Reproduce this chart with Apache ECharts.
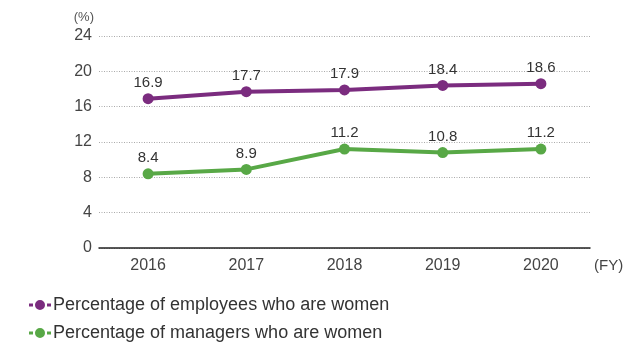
<!DOCTYPE html>
<html><head><meta charset="utf-8">
<script src="https://cdn.jsdelivr.net/npm/echarts@6/dist/echarts.min.js"></script>
<style>html,body{margin:0;padding:0;background:#fff}#c{width:627px;height:342px}</style>
</head><body><div id="c"></div>
<script>
const categories = ['2016','2017','2018','2019','2020'];
const employeesWomen = [16.9, 17.7, 17.9, 18.4, 18.6];
const managersWomen = [8.4, 8.9, 11.2, 10.8, 11.2];
const seriesNames = ['Percentage of employees who are women','Percentage of managers who are women'];

const icon = 'path://M0,4.5h4v3h-4z M6,6a5,5 0 1,0 10,0a5,5 0 1,0 -10,0z M18,4.5h4v3h-4z';
const chart = echarts.init(document.getElementById('c'));
const font = 'Liberation Sans, Arial, sans-serif';
function mk(name, data, color){
  return {
    name, type:'line', data,
    symbol:'circle', symbolSize:11,
    lineStyle:{color, width:4},
    itemStyle:{color},
    label:{show:true, position:'top', distance:3, color:'#333', fontSize:15, fontFamily:font, formatter:p=>p.value.toFixed(1)}
  };
}
function lg(i, top){
  return {
    left:24, top, itemWidth:22, itemHeight:10,
    textStyle:{fontSize:18, color:'#333', fontFamily:font, padding:[0,0,0,-3]},
    data:[{name:seriesNames[i], icon}]
  };
}
chart.setOption({
  animation:false,
  textStyle:{fontFamily:font},
  grid:{left:99, right:37, top:36, bottom:94, outerBoundsMode:'none', containLabel:false},
  legend:[lg(0, 291), lg(1, 319)],
  xAxis:{
    type:'category', data:categories,
    axisLine:{lineStyle:{color:'#222', width:1.5}},
    axisTick:{show:false},
    axisLabel:{color:'#444', fontSize:16, margin:10},
    name:'(FY)', nameLocation:'end', nameGap:4,
    nameTextStyle:{color:'#444', fontSize:15, verticalAlign:'top', padding:[10,0,0,0]}
  },
  yAxis:{
    type:'value', min:0, max:24, interval:4,
    axisLine:{show:false}, axisTick:{show:false},
    axisLabel:{color:'#444', fontSize:16, margin:7},
    splitLine:{lineStyle:{color:'#aaa', type:[1,1.5], width:1}},
    name:'(%)', nameLocation:'end', nameGap:12,
    nameTextStyle:{color:'#555', fontSize:13, align:'right', padding:[0,5,0,0]}
  },
  series:[mk(seriesNames[0], employeesWomen, '#7b2c7f'), mk(seriesNames[1], managersWomen, '#58a846')]
});
</script></body></html>
